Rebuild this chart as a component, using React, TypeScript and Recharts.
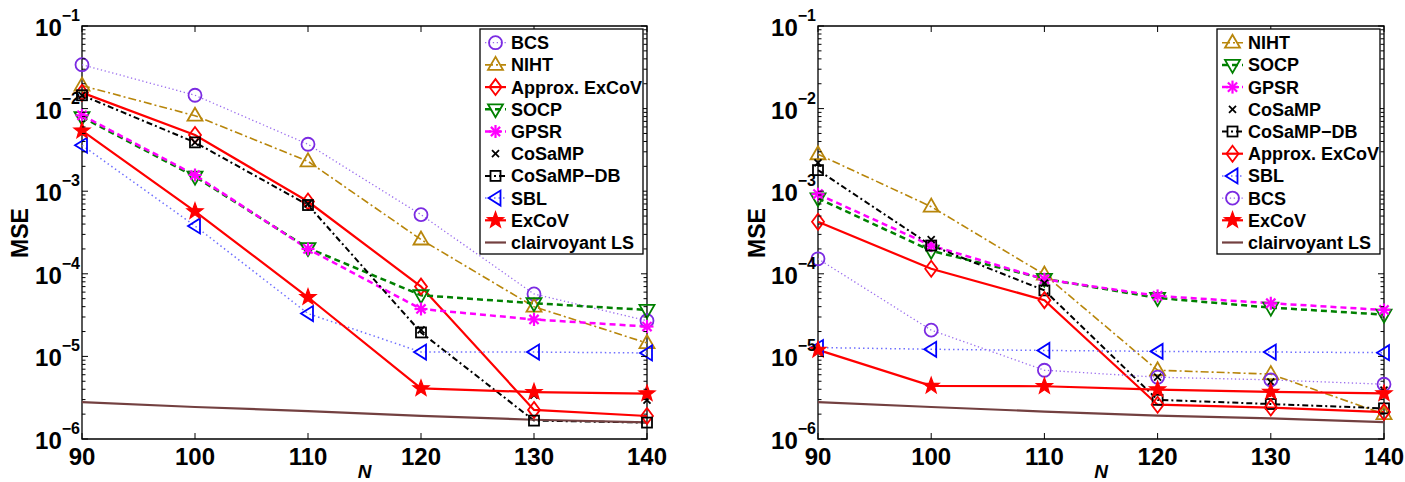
import React from 'react';
import { LineChart, Line, XAxis, YAxis, ReferenceArea } from 'recharts';

const N = [90, 100, 110, 120, 130, 140];
const yMajor = [1e-6, 1e-5, 1e-4, 1e-3, 1e-2, 1e-1];
const yMinorMult = [2, 3, 4, 5, 6, 7, 8, 9];
const yTicks = [...yMajor, ...yMajor.slice(0, 5).flatMap((d) => yMinorMult.map((m) => m * d))];

// left panel
const bcsL = [0.034, 0.0145, 0.0037, 5.2e-4, 5.7e-5, 2.7e-5];
const nihtL = [0.019, 0.0082, 0.0023, 2.6e-4, 4.0e-5, 1.45e-5];
const approxL = [0.0156, 0.0048, 7.5e-4, 7.0e-5, 2.25e-6, 1.9e-6];
const socpL = [0.0079, 0.0015, 2.05e-4, 5.5e-5, 4.4e-5, 3.65e-5];
const gpsrL = [0.0083, 0.00157, 2.0e-4, 3.75e-5, 2.8e-5, 2.3e-5];
const cosampL = [0.0145, 0.0039, 7.0e-4, 2.1e-5, 3.4e-6, 2.95e-6];
const cosampDbL = [0.0145, 0.0039, 6.8e-4, 1.95e-5, 1.67e-6, 1.58e-6];
const sblL = [0.0036, 3.8e-4, 3.3e-5, 1.13e-5, 1.13e-5, 1.1e-5];
const excovL = [0.0054, 5.7e-4, 5.2e-5, 4.1e-6, 3.7e-6, 3.55e-6];
const lsL = [2.8e-6, 2.44e-6, 2.18e-6, 1.91e-6, 1.71e-6, 1.59e-6];

// right panel
const nihtR = [0.0028, 6.5e-4, 9.8e-5, 6.8e-6, 6.1e-6, 2.0e-6];
const socpR = [8.2e-4, 1.9e-4, 8.7e-5, 5.1e-5, 3.9e-5, 3.2e-5];
const gpsrR = [9.2e-4, 2.2e-4, 8.6e-5, 5.4e-5, 4.4e-5, 3.65e-5];
const cosampR = [0.0022, 2.6e-4, 7.7e-5, 5.6e-6, 4.9e-6, 3.9e-6];
const cosampDbR = [0.0018, 2.2e-4, 6.3e-5, 2.98e-6, 2.65e-6, 2.35e-6];
const approxR = [4.27e-4, 1.15e-4, 4.8e-5, 2.6e-6, 2.4e-6, 2.12e-6];
const sblR = [1.28e-5, 1.22e-5, 1.18e-5, 1.15e-5, 1.13e-5, 1.11e-5];
const bcsR = [1.52e-4, 2.08e-5, 6.8e-6, 5.6e-6, 5.2e-6, 4.6e-6];
const excovR = [1.2e-5, 4.4e-6, 4.35e-6, 3.97e-6, 3.72e-6, 3.56e-6];
const lsR = [2.8e-6, 2.44e-6, 2.15e-6, 1.92e-6, 1.78e-6, 1.6e-6];

const orderL = ['bcs', 'niht', 'approx', 'socp', 'gpsr', 'cosamp', 'cosampDb', 'sbl', 'excov', 'ls'];
const orderR = ['niht', 'socp', 'gpsr', 'cosamp', 'cosampDb', 'approx', 'sbl', 'bcs', 'excov', 'ls'];

const rowsL = N.map((n, i) => ({
  N: n, bcs: bcsL[i], niht: nihtL[i], approx: approxL[i], socp: socpL[i], gpsr: gpsrL[i],
  cosamp: cosampL[i], cosampDb: cosampDbL[i], sbl: sblL[i], excov: excovL[i], ls: lsL[i],
}));
const rowsR = N.map((n, i) => ({
  N: n, bcs: bcsR[i], niht: nihtR[i], approx: approxR[i], socp: socpR[i], gpsr: gpsrR[i],
  cosamp: cosampR[i], cosampDb: cosampDbR[i], sbl: sblR[i], excov: excovR[i], ls: lsR[i],
}));

type Style = { name: string; color: string; line: string; dash?: string; width: number; marker: string };
const styles: Record<string, Style> = {
  bcs: { name: 'BCS', color: '#7b2be2', line: '#9a6cee', dash: '1.3 2.6', width: 1.3, marker: 'circle' },
  niht: { name: 'NIHT', color: '#b8860b', line: '#b8860b', dash: '8 3 2 3', width: 1.6, marker: 'triUp' },
  approx: { name: 'Approx. ExCoV', color: '#ff0000', line: '#ff0000', width: 2.2, marker: 'diamond' },
  socp: { name: 'SOCP', color: '#008000', line: '#008000', dash: '6 4', width: 2.5, marker: 'triDown' },
  gpsr: { name: 'GPSR', color: '#ff00ff', line: '#ff00ff', dash: '6 4', width: 2.5, marker: 'asterisk' },
  cosamp: { name: 'CoSaMP', color: '#000000', line: 'none', width: 0, marker: 'x' },
  cosampDb: { name: 'CoSaMP\u2212DB', color: '#000000', line: '#000000', dash: '6 3 2 3', width: 2, marker: 'square' },
  sbl: { name: 'SBL', color: '#0000ff', line: '#6f6fff', dash: '1.5 3', width: 1.5, marker: 'triLeft' },
  excov: { name: 'ExCoV', color: '#ff0000', line: '#ff0000', width: 2.2, marker: 'star' },
  ls: { name: 'clairvoyant LS', color: '#734040', line: '#734040', width: 2.2, marker: 'none' },
};

const FONT = '"Liberation Sans", Arial, Helvetica, sans-serif';
const H = 482;
const PLOT_TOP = 26;
const PLOT_BOTTOM = 439;

const Marker = ({ kind, cx, cy, color }: { kind: string; cx: number; cy: number; color: string }) => {
  const sw = 1.8;
  if (kind === 'circle') return <circle cx={cx} cy={cy} r={6.5} fill="none" stroke={color} strokeWidth={sw} />;
  if (kind === 'triUp')
    return <polygon points={`${cx},${cy - 8} ${cx - 7.5},${cy + 5} ${cx + 7.5},${cy + 5}`} fill="none" stroke={color} strokeWidth={sw} />;
  if (kind === 'triDown')
    return <polygon points={`${cx},${cy + 8} ${cx - 7.5},${cy - 5} ${cx + 7.5},${cy - 5}`} fill="none" stroke={color} strokeWidth={sw} />;
  if (kind === 'triLeft')
    return <polygon points={`${cx - 7},${cy} ${cx + 5},${cy - 7.5} ${cx + 5},${cy + 7.5}`} fill="none" stroke={color} strokeWidth={sw} />;
  if (kind === 'diamond')
    return <polygon points={`${cx},${cy - 8} ${cx + 6},${cy} ${cx},${cy + 8} ${cx - 6},${cy}`} fill="none" stroke={color} strokeWidth={sw} />;
  if (kind === 'square') return <rect x={cx - 5} y={cy - 5} width={10} height={10} fill="none" stroke={color} strokeWidth={sw} />;
  if (kind === 'x')
    return (
      <g stroke={color} strokeWidth={1.8}>
        <line x1={cx - 3.5} y1={cy - 3.5} x2={cx + 3.5} y2={cy + 3.5} />
        <line x1={cx - 3.5} y1={cy + 3.5} x2={cx + 3.5} y2={cy - 3.5} />
      </g>
    );
  if (kind === 'asterisk')
    return (
      <g stroke={color} strokeWidth={2.2}>
        <line x1={cx} y1={cy - 6.5} x2={cx} y2={cy + 6.5} />
        <line x1={cx - 6.5} y1={cy} x2={cx + 6.5} y2={cy} />
        <line x1={cx - 4.6} y1={cy - 4.6} x2={cx + 4.6} y2={cy + 4.6} />
        <line x1={cx - 4.6} y1={cy + 4.6} x2={cx + 4.6} y2={cy - 4.6} />
      </g>
    );
  if (kind === 'star') {
    const pts = Array.from({ length: 10 }, (_, k) => {
      const a = ((-90 + k * 36) * Math.PI) / 180;
      const r = k % 2 === 0 ? 8.5 : 3.5;
      return `${cx + r * Math.cos(a)},${cy + r * Math.sin(a)}`;
    }).join(' ');
    return <polygon points={pts} fill={color} stroke={color} strokeWidth={1.2} />;
  }
  return null;
};

const Panel = ({ left, width, plotLeft, plotRight, rows, order, legendX, mseX }: any) => {
  const YTick = ({ y, payload }: any) => {
    const v = payload.value;
    const exp = Math.round(Math.log10(v));
    const major = Math.abs(v / Math.pow(10, exp) - 1) < 1e-6;
    const len = major ? 6 : 3.5;
    return (
      <g>
        <line x1={plotLeft} x2={plotLeft + len} y1={y} y2={y} stroke="#000" strokeWidth={1} />
        <line x1={plotRight} x2={plotRight - len} y1={y} y2={y} stroke="#000" strokeWidth={1} />
        {major && (
          <text x={plotLeft - 2} y={y + 10} textAnchor="end" fontFamily={FONT} fontWeight="bold" fontSize={24} fill="#000">
            10
            <tspan dy={-15} fontSize={16}>{`\u2212${-exp}`}</tspan>
          </text>
        )}
      </g>
    );
  };
  const XTick = ({ x, payload }: any) => (
    <g>
      <line x1={x} x2={x} y1={PLOT_BOTTOM} y2={PLOT_BOTTOM - 6} stroke="#000" strokeWidth={1} />
      <line x1={x} x2={x} y1={PLOT_TOP} y2={PLOT_TOP + 6} stroke="#000" strokeWidth={1} />
      <text x={x} y={PLOT_BOTTOM + 26} textAnchor="middle" fontFamily={FONT} fontWeight="bold" fontSize={24} fill="#000">
        {payload.value}
      </text>
    </g>
  );

  return (
    <div style={{ position: 'absolute', left, top: 0, width, height: H }}>
      <LineChart width={width} height={H} data={rows} margin={{ top: PLOT_TOP, right: width - plotRight, bottom: 0, left: 0 }}>
        <XAxis dataKey="N" type="number" domain={[90, 140]} ticks={N} interval={0} height={H - PLOT_BOTTOM}
          tickLine={false} tickSize={0} axisLine={false} tick={<XTick />} />
        <YAxis type="number" scale="log" domain={[1e-6, 1e-1]} allowDataOverflow ticks={yTicks} interval={0} width={plotLeft}
          tickLine={false} tickSize={0} axisLine={false} tick={<YTick />} />
        <ReferenceArea x1={90} x2={140} y1={1e-6} y2={1e-1} fill="none" stroke="#000" strokeWidth={1.3} />
        {order.map((id: string) => {
          const s = styles[id];
          return (
            <Line key={id} type="linear" dataKey={id} stroke={s.line} strokeWidth={s.width} strokeDasharray={s.dash}
              isAnimationActive={false} activeDot={false}
              dot={s.marker === 'none' ? false : (p: any) => <Marker key={`${id}-${p.index}`} kind={s.marker} cx={p.cx} cy={p.cy} color={s.color} />} />
          );
        })}
      </LineChart>
      <svg width={width} height={H} style={{ position: 'absolute', left: 0, top: 0, pointerEvents: 'none' }}>
        <text transform={`translate(${mseX},233) rotate(-90)`} textAnchor="middle" dominantBaseline="central"
          fontFamily={FONT} fontWeight="bold" fontSize={23}>MSE</text>
        <text x={(plotLeft + plotRight) / 2} y={478} textAnchor="middle" fontFamily={FONT} fontWeight="bold"
          fontStyle="italic" fontSize={19}>N</text>
        <rect x={legendX} y={29} width={163} height={225} fill="#fff" stroke="#000" strokeWidth={1.3} />
        {order.map((id: string, i: number) => {
          const s = styles[id];
          const yy = 42.7 + i * 22.2;
          return (
            <g key={id}>
              {s.line !== 'none' && (
                <line x1={legendX + 5} x2={legendX + 26} y1={yy} y2={yy} stroke={s.line} strokeWidth={s.width}
                  strokeDasharray={s.dash} />
              )}
              <Marker kind={s.marker} cx={legendX + 15.5} cy={yy} color={s.color} />
              <text x={legendX + 31} y={yy + 6.5} fontFamily={FONT} fontWeight="bold" fontSize={18} fill="#000">
                {s.name}
              </text>
            </g>
          );
        })}
      </svg>
    </div>
  );
}

export default function App() {
  return (
    <div style={{ position: 'absolute', left: 0, top: 0, width: 1405, height: H, background: '#fff' }}>
      <Panel left={0} width={700} plotLeft={82} plotRight={647} rows={rowsL} order={orderL} legendX={480} mseX={20} />
      <Panel left={700} width={705} plotLeft={118} plotRight={684} rows={rowsR} order={orderR} legendX={517} mseX={57} />
    </div>
  );
}
